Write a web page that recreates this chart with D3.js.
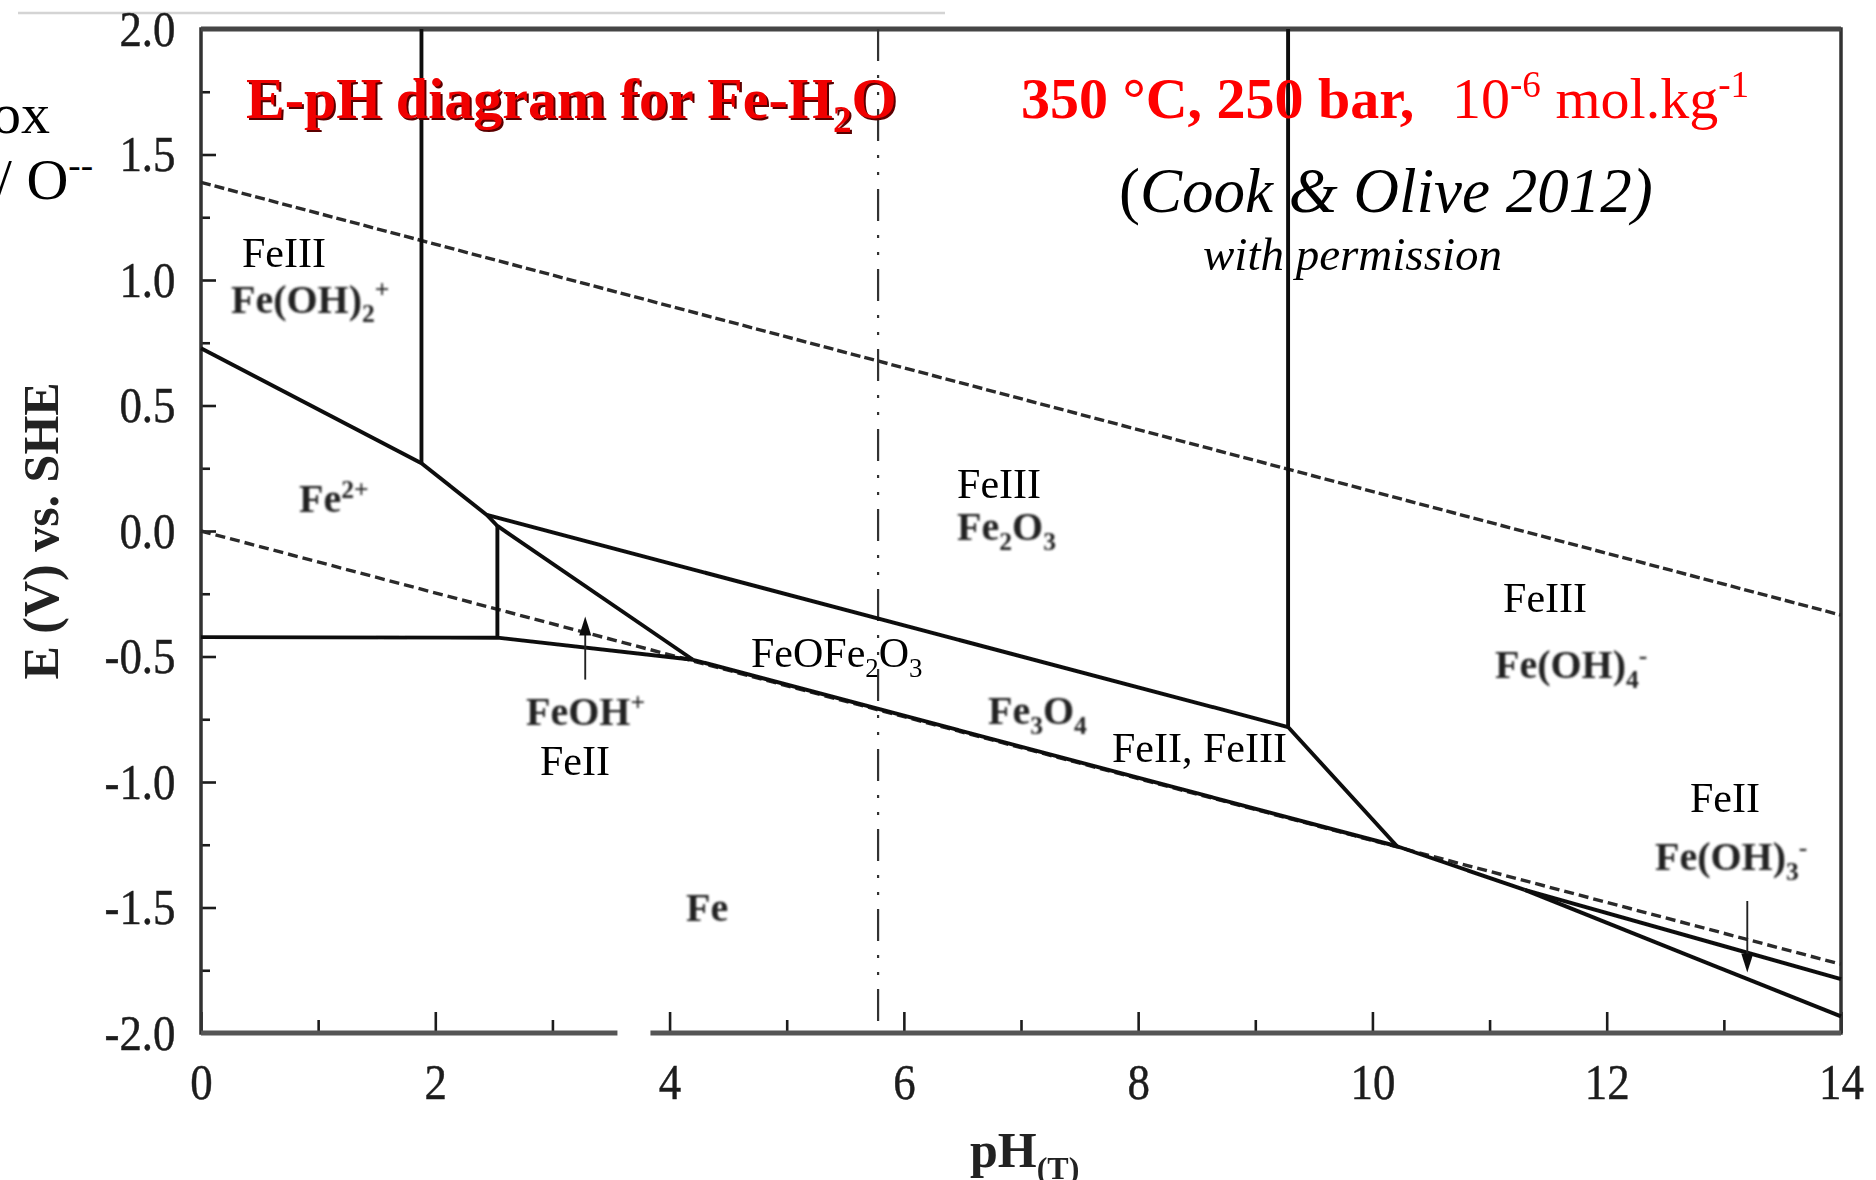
<!DOCTYPE html>
<html>
<head>
<meta charset="utf-8">
<script src="https://cdn.jsdelivr.net/npm/d3@7"></script>
<style>
  html, body { margin: 0; padding: 0; background: #fff; }
  svg { display: block; font-family: "Liberation Serif", "Times New Roman", serif; }
</style>
</head>
<body>
<div id="chart"></div>
<script>
// Axis ranges and ticks
const phDomain = [0, 14];
const eDomain = [-2, 2];
const phMajor = [0, 2, 4, 6, 8, 10, 12, 14];
const phMinor = [1, 3, 5, 7, 9, 11, 13];
const eMajor = [2, 1.5, 1, 0.5, 0, -0.5, -1, -1.5, -2];
const eMinor = [1.75, 1.25, 0.75, 0.25, -0.25, -0.75, -1.25, -1.75];
const eTickLabels = ["2.0", "1.5", "1.0", "0.5", "0.0", "-0.5", "-1.0", "-1.5", "-2.0"];

// Water stability lines (dashed), [pH, E]
const o2Line = [[0, 1.389], [14, -0.335]];
const h2Line = [[0, 0], [14, -1.726]];

// Neutral pH at 350 °C (dash-dot line)
const neutralPH = 5.78;

// Solid phase boundaries, each one a polyline of [pH, E]
const boundaries = [
  [[1.882, 2.0], [1.882, 0.270]],
  [[0, 0.728], [1.882, 0.270], [2.44, 0.064], [2.53, 0.02], [4.20, -0.513]],
  [[2.44, 0.064], [9.28, -0.781]],
  [[9.28, 2.0], [9.28, -0.781], [10.21, -1.256]],
  [[2.53, 0.02], [2.53, -0.425]],
  [[0, -0.423], [2.53, -0.425], [4.20, -0.513]],
  [[4.20, -0.513], [10.21, -1.256], [11.3, -1.43]],
  [[11.3, -1.43], [14, -1.785]],
  [[11.3, -1.43], [14, -1.934]]
];

// Species names of the original figure (bold), placed at [pH, E]
const speciesText = ["Fe(OH)_{2}^{+}", "Fe^{2+}", "FeOH^{+}", "Fe_{2}O_{3}", "Fe_{3}O_{4}", "Fe(OH)_{4}^{-}", "Fe(OH)_{3}^{-}", "Fe"];
const speciesPH = [0.256, 0.837, 2.774, 6.454, 6.718, 11.046, 12.412, 4.14];
const speciesE = [0.869, 0.076, -0.773, -0.036, -0.769, -0.586, -1.351, -1.554];

// Oxidation state notes added on top
const stateText = ["FeIII", "FeIII", "FeOFe_{2}O_{3}", "FeII", "FeII, FeIII", "FeIII", "FeII"];
const statePH = [0.35, 6.454, 4.695, 2.894, 7.777, 11.115, 12.711];
const stateE = [1.052, 0.131, -0.542, -0.972, -0.920, -0.323, -1.12];

// Pointer arrows: pH, tail E, tip E
const arrowPH = [3.28, 13.2];
const arrowFrom = [-0.592, -1.474];
const arrowTo = [-0.341, -1.759];

const W = 1876, H = 1180;
const svg = d3.select("#chart").append("svg")
    .attr("width", W)
    .attr("height", H);

const defs = svg.append("defs");
defs.append("filter").attr("id", "soft")
    .append("feGaussianBlur").attr("stdDeviation", 0.7);
defs.append("filter").attr("id", "softer")
    .append("feGaussianBlur").attr("stdDeviation", 1.0);

const x = d3.scaleLinear().domain(phDomain).range([201, 1841]);
const y = d3.scaleLinear().domain(eDomain).range([1033, 29]);

// writes text with _{sub} and ^{sup} pieces as tspans
function rich(sel, str, fs) {
  const re = /([_^])\{([^}]*)\}|([^_^]+)/g;
  let m, off = 0;
  while ((m = re.exec(str))) {
    if (m[3]) {
      sel.append("tspan").attr("dy", -off).text(m[3]);
      off = 0;
    } else {
      const shift = m[1] === "_" ? 0.24 * fs : -0.36 * fs;
      sel.append("tspan").attr("dy", shift - off)
          .attr("font-size", 0.64 * fs).text(m[2]);
      off = shift;
    }
  }
}

// faint rule at the top left
svg.append("line")
    .attr("x1", 18).attr("x2", 945).attr("y1", 13).attr("y2", 13)
    .attr("stroke", "#d4d4d4").attr("stroke-width", 2.5);

// cut off text on the left edge
svg.append("text").attr("x", 50).attr("y", 133)
    .attr("text-anchor", "end").attr("font-size", 58).text("ox");
const ot = svg.append("text").attr("x", 93).attr("y", 199)
    .attr("text-anchor", "end").attr("font-size", 58);
rich(ot, "/ O^{--}", 58);

// axes
const axisG = svg.append("g").attr("filter", "url(#soft)");

axisG.append("g")
    .attr("transform", `translate(0,${y(-2)})`)
    .call(d3.axisBottom(x).tickValues(phMajor).tickSize(-21).tickPadding(30).tickFormat(d3.format("d")));
axisG.append("g")
    .attr("transform", `translate(0,${y(-2)})`)
    .call(d3.axisBottom(x).tickValues(phMinor).tickSize(-13).tickFormat(""));

axisG.append("g")
    .attr("transform", `translate(${x(0)},0)`)
    .call(d3.axisLeft(y).tickValues(eMajor).tickSize(-15).tickPadding(29).tickFormat((d, i) => eTickLabels[i]));
axisG.append("g")
    .attr("transform", `translate(${x(0)},0)`)
    .call(d3.axisLeft(y).tickValues(eMinor).tickSize(-9).tickFormat(""));

axisG.selectAll(".domain").remove();
axisG.selectAll("g")
    .attr("font-family", "'Liberation Serif', 'Times New Roman', serif")
    .attr("font-size", 51)
    .attr("color", "#1e1e1e");
axisG.selectAll(".tick line").attr("stroke-width", 2.6);
// tall, narrow digits like the scanned figure
axisG.selectAll(".tick text")
    .attr("stroke", "#1e1e1e").attr("stroke-width", 0.45)
    .attr("transform", "scale(0.88,1)");

// plot frame
axisG.append("rect")
    .attr("x", x(0)).attr("y", y(2))
    .attr("width", x(14) - x(0)).attr("height", y(-2) - y(2))
    .attr("fill", "none").attr("stroke", "#333").attr("stroke-width", 3.5);
axisG.append("line")
    .attr("x1", x(0)).attr("x2", x(14)).attr("y1", y(2)).attr("y2", y(2))
    .attr("stroke", "#444").attr("stroke-width", 5);
axisG.append("line")
    .attr("x1", x(0)).attr("x2", x(14)).attr("y1", y(-2)).attr("y2", y(-2))
    .attr("stroke", "#555").attr("stroke-width", 5);

// axis titles
const xt = axisG.append("text")
    .attr("x", 970).attr("y", 1167)
    .attr("font-size", 50).attr("font-weight", "bold").attr("fill", "#222");
rich(xt, "pH_{(T)}", 50);

axisG.append("text")
    .attr("transform", `translate(58,${y(0)}) rotate(-90)`)
    .attr("text-anchor", "middle")
    .attr("font-size", 50).attr("font-weight", "bold").attr("fill", "#222")
    .text("E (V) vs. SHE");

// diagram lines
const line = d3.line().x(d => x(d[0])).y(d => y(d[1]));
const plot = svg.append("g").attr("filter", "url(#soft)");

plot.append("path").attr("d", line(o2Line))
    .attr("fill", "none").attr("stroke", "#2a2a2a").attr("stroke-width", 3.4)
    .attr("stroke-dasharray", "10,4");
plot.append("path").attr("d", line(h2Line))
    .attr("fill", "none").attr("stroke", "#2a2a2a").attr("stroke-width", 3.4)
    .attr("stroke-dasharray", "10,5");

plot.append("line")
    .attr("x1", x(neutralPH)).attr("x2", x(neutralPH))
    .attr("y1", y(2)).attr("y2", y(-2))
    .attr("stroke", "#333").attr("stroke-width", 2.2)
    .attr("stroke-dasharray", "32,14,3,14,3,14");

plot.selectAll(".boundary")
    .data(boundaries)
    .enter()
    .append("path")
    .attr("class", "boundary")
    .attr("d", line)
    .attr("fill", "none")
    .attr("stroke", "#111")
    .attr("stroke-width", 3.9)
    .attr("stroke-linejoin", "round");

// arrows
arrowPH.forEach((ph, i) => {
  const ax = x(ph), y0 = y(arrowFrom[i]), y1 = y(arrowTo[i]);
  const dir = y1 < y0 ? 1 : -1;
  plot.append("line")
      .attr("x1", ax).attr("x2", ax).attr("y1", y0).attr("y2", y1 + dir * 8)
      .attr("stroke", "#222").attr("stroke-width", 1.9);
  plot.append("path")
      .attr("d", `M${ax},${y1} L${ax - 6},${y1 + dir * 19} L${ax + 6},${y1 + dir * 19} Z`)
      .attr("fill", "#111");
});

// white gap on the x axis
svg.append("rect")
    .attr("x", x(3.555)).attr("y", y(-2) - 7)
    .attr("width", 33).attr("height", 14)
    .attr("fill", "#fff");

// species names, bold and soft
const spG = svg.append("g").attr("filter", "url(#softer)");
speciesText.forEach((t, i) => {
  const el = spG.append("text")
      .attr("x", x(speciesPH[i])).attr("y", y(speciesE[i]))
      .attr("font-size", 40).attr("font-weight", "bold").attr("fill", "#222");
  rich(el, t, 40);
});

// oxidation state notes
stateText.forEach((t, i) => {
  const el = svg.append("text")
      .attr("x", x(statePH[i])).attr("y", y(stateE[i]))
      .attr("font-size", 42).attr("fill", "#000");
  rich(el, t, 42);
});

// titles
const t1shadow = svg.append("text").attr("x", 248).attr("y", 120)
    .attr("font-size", 58).attr("font-weight", "bold").attr("fill", "#5a0000");
rich(t1shadow, "E-pH diagram for Fe-H_{2}O", 58);
const t1 = svg.append("text").attr("x", 246).attr("y", 118)
    .attr("font-size", 58).attr("font-weight", "bold").attr("fill", "#f00000");
rich(t1, "E-pH diagram for Fe-H_{2}O", 58);

svg.append("text").attr("x", 1021).attr("y", 118)
    .attr("font-size", 58).attr("font-weight", "bold").attr("fill", "#ff0000")
    .text("350 °C, 250 bar,");
const t3 = svg.append("text").attr("x", 1452).attr("y", 118)
    .attr("font-size", 58).attr("fill", "#ff0000");
rich(t3, "10^{-6} mol.kg^{-1}", 58);

const cite = svg.append("text").attr("x", 1119).attr("y", 212)
    .attr("font-size", 63).attr("fill", "#000");
cite.append("tspan").text("(");
cite.append("tspan").attr("font-style", "italic").text("Cook & Olive 2012)");

svg.append("text").attr("x", 1203).attr("y", 270)
    .attr("font-size", 47).attr("font-style", "italic").attr("fill", "#000")
    .text("with permission");
</script>
</body>
</html>
